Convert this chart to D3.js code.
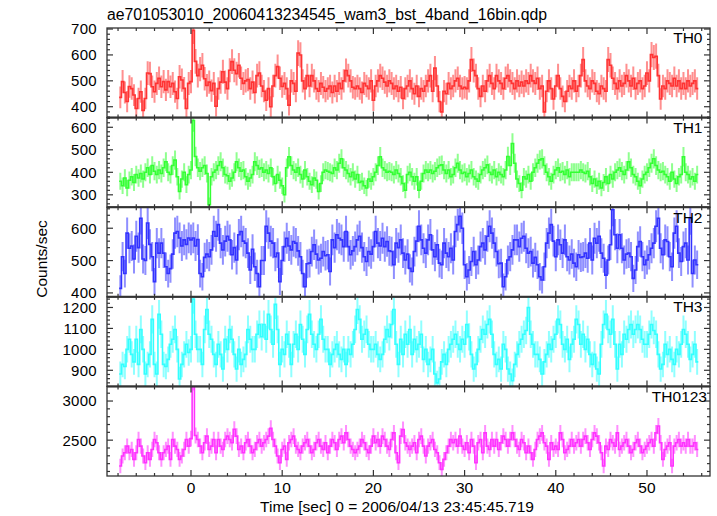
<!DOCTYPE html>
<html><head><meta charset="utf-8">
<script src="https://cdn.jsdelivr.net/npm/d3@7"></script>
<style>body{margin:0;background:#fff} svg{display:block} text{font-family:"Liberation Sans",Arial,Helvetica,sans-serif;fill:#000}</style>
</head><body><svg id="c" width="717" height="516"></svg>
<script>
// ---------- data ----------
const title = "ae701053010_20060413234545_wam3_bst_4band_16bin.qdp";
const xLabel = "Time [sec] 0 = 2006/04/13 23:45:45.719";
const yLabel = "Counts/sec";
const bandNames = ["TH0", "TH1", "TH2", "TH3", "TH0123"];
const binStart = -7.75;      // centre of first bin (s)
const binWidth = 0.25;       // s
const timeDomain = [-9.21, 56.91];
const xTicksMajor = [0, 10, 20, 30, 40, 50];
const xMinorStep = 2;
const yDomains = [[358, 704], [245, 643], [388, 665], [823, 1251], [2042, 3187]];
const yTicksMajor = [[400, 500, 600, 700], [300, 400, 500, 600], [400, 500, 600], [900, 1000, 1100, 1200], [2500, 3000]];
const yMinorStep = [20, 20, 20, 20, 100];

const TH0 = [436,497,455,
420,478,470,445, 393,432,458,386, 432,530,528,477, 458,490,510,477, 497,465,497,477, 490,458,432,516, 503,471,393,490,
497,695,575,520, 545,560,508,482, 495,462,490,402, 470,495,535,495, 470,541,574,541, 528,560,510,490, 500,505,470,495,
455,520,530,480, 460,425,470,400, 480,520,555,510, 478,490,470,406, 500,490,460,607, 600,500,470,520, 480,520,500,470,
460,490,475,460, 470,480,455,480, 460,490,470,500, 540,520,500,475, 470,480,470,455, 490,480,470,500, 425,480,500,520,
510,495,480,500, 490,470,480,460, 475,432,470,480, 500,470,450,480, 440,470,460,480, 500,520,460,549, 480,420,380,460,
450,490,470,480, 500,510,480,470, 475,470,500,582, 540,520,470,440, 480,460,500,520, 490,470,520,500, 490,470,510,520,
500,490,470,500, 480,495,480,500, 490,520,500,490, 510,470,480,380, 460,500,470,430, 480,520,470,440, 420,460,480,470,
500,460,480,520, 582,500,480,470, 500,490,460,450, 480,470,460,582, 560,510,490,470, 500,480,490,520, 500,480,510,470,
490,500,470,480, 530,500,601,590, 595,520,430,480, 470,500,490,480, 510,480,500,470, 490,470,500,480,
490,500,470];

const TH1 = [360,340,375,
330,365,380,355, 390,375,395,370, 400,420,390,430, 405,390,410,395, 420,447,400,390, 430,454,380,315, 370,400,345,390,
410,630,470,420, 405,420,430,395, 256,380,400,410, 430,447,420,390, 385,360,375,400, 447,420,405,410, 380,360,375,390,
447,430,415,420, 400,410,395,420, 380,350,390,365, 340,300,420,469, 430,410,400,420, 390,370,410,380, 360,345,375,365,
315,350,400,410, 405,400,395,420, 410,440,460,420, 410,395,380,400, 370,390,355,360, 340,330,370,360, 380,400,430,469,
420,410,400,405, 400,390,410,395, 380,350,320,390, 400,380,360,380, 320,360,395,410, 400,410,395,405, 420,430,433,410,
395,410,380,390, 420,440,410,395, 400,380,395,410, 380,370,360,390, 410,420,433,400, 390,410,380,400, 390,380,410,470,
430,528,440,370, 350,320,380,370, 390,360,400,420, 440,455,460,430, 400,380,360,390, 410,420,400,405, 390,410,380,400,
400,400,400,410, 400,395,405,380, 350,370,340,360, 330,355,380,350, 390,370,400,410, 420,405,390,410, 447,420,390,380,
360,340,370,390, 400,420,440,460, 430,410,400,405, 390,380,360,400, 370,350,380,390, 469,400,390,370,
380,360,390];

const TH2 = [414,512,460,
585,538,545,505, 575,540,631,505, 500,616,550,512, 435,554,523,554, 523,481,460,475, 520,585,590,570, 545,564,550,570,
564,570,545,565, 460,450,510,520, 512,533,590,575, 611,554,533,560, 575,564,518,540, 502,580,590,560, 554,523,471,535,
481,460,419,500, 500,606,585,560, 554,512,523,435, 500,543,569,545, 533,559,554,530, 512,460,419,490, 492,528,549,520,
502,507,528,515, 518,466,564,540, 580,569,564,543, 590,543,518,530, 543,564,575,540, 512,497,528,520, 543,590,554,545,
569,543,559,530, 528,487,554,540, 564,523,502,520, 476,466,528,560, 606,564,538,523, 564,580,533,512, 549,492,487,554,
523,512,538,502, 590,611,637,600, 487,450,471,497, 528,487,502,543, 554,533,575,606, 585,554,528,490, 492,419,450,502,
512,533,564,564, 543,569,575,538, 523,528,492,510, 487,450,440,481, 554,585,611,560, 512,564,549,523, 564,512,502,520,
492,481,518,510, 512,523,507,554, 502,569,554,575, 523,507,455,502, 549,657,580,538, 580,538,502,520, 523,512,445,471,
543,559,512,487, 502,518,538,554, 606,631,538,518, 564,559,512,481, 585,606,523,497, 543,554,502,630,
460,502,487];

const TH3 = [882,928,918,
1000,1048,976,940, 1048,928,1095,1000, 882,928,976,1143, 928,882,1167,1072, 928,918,952,1024, 1048,1095,1000,858, 928,976,1024,985,
1000,1240,1072,1000, 1000,928,1095,1190, 1072,1048,976,928, 1024,976,906,1048, 1000,1095,1048,976, 906,1000,928,952, 976,1095,1048,1000,
1000,1072,1119,1060, 1119,1048,1167,1095, 1024,1215,1095,928, 1000,976,1072,1024, 928,1024,1072,1000, 1119,1048,976,1095, 1167,1072,1024,1000,
1072,1143,1048,1000, 1000,928,976,1000, 1024,976,952,1000, 928,1000,976,1024, 1095,1190,1143,1048, 1072,1095,1024,1000, 1000,1024,976,952,
976,1048,1095,1060, 1119,1190,1024,928, 1048,976,1072,1024, 1095,976,1048,1000, 1024,1072,952,1000, 928,952,1000,882, 840,858,940,976,
928,1000,1024,1048, 1072,1024,1000,1048, 1024,1119,1060,976, 906,928,1000,1048, 1095,1072,1119,1143, 1072,976,928,952, 906,1024,1000,906,
882,850,928,976, 1024,1048,1072,1090, 1200,1072,1024,976, 976,952,882,940, 976,1024,1000,1048, 1072,1143,1119,1024, 1000,1048,952,1024,
1048,1143,1119,1024, 1072,1000,1048,976, 928,976,906,882, 1024,1119,1167,1095, 1072,1143,1024,906, 1024,976,1072,1048, 1095,1119,1072,1095,
1119,1095,1048,1024, 1024,1072,1119,1090, 1072,976,906,928, 1024,976,1000,952, 928,1000,976,1024, 1095,1072,1024,952,
976,1024,940];

const TH0123 = [2170,2297,2339,
2424,2339,2381,2254, 2339,2508,2424,2297, 2212,2339,2254,2381, 2508,2466,2339,2254, 2339,2381,2424,2254, 2508,2424,2381,2254, 2297,2381,2508,2424,
2520,3250,2560,2508, 2424,2339,2466,2551, 2381,2424,2508,2339, 2508,2424,2381,2508, 2551,2508,2466,2640, 2551,2381,2424,2339, 2466,2508,2424,2339,
2381,2466,2508,2424, 2466,2508,2551,2650, 2508,2424,2297,2212, 2381,2424,2254,2466, 2508,2551,2424,2381, 2339,2424,2466,2508, 2424,2339,2381,2466,
2508,2424,2381,2466, 2339,2424,2508,2466, 2381,2508,2551,2466, 2593,2508,2424,2381, 2339,2381,2424,2508, 2466,2381,2339,2424, 2551,2466,2508,2424,
2551,2508,2424,2381, 2508,2593,2339,2212, 2551,2636,2466,2424, 2381,2424,2466,2339, 2508,2551,2424,2297, 2424,2466,2508,2381, 2339,2212,2127,2254,
2339,2424,2508,2466, 2508,2424,2551,2424, 2381,2466,2339,2508, 2424,2212,2466,2508, 2339,2593,2424,2381, 2508,2424,2508,2381, 2466,2551,2508,2424,
2508,2593,2508,2424, 2381,2508,2466,2339, 2424,2339,2254,2381, 2508,2551,2593,2466, 2424,2254,2466,2381, 2424,2381,2593,2508, 2339,2381,2424,2508,
2424,2466,2508,2424, 2508,2551,2466,2381, 2508,2593,2551,2466, 2339,2170,2424,2381, 2508,2466,2424,2593, 2381,2424,2466,2508, 2424,2339,2381,2466,
2508,2424,2339,2381, 2424,2466,2508,2424, 2593,2680,2466,2254, 2381,2424,2466,2170, 2424,2466,2508,2424, 2466,2424,2508,2424,
2424,2466,2381];

const series = [TH0, TH1, TH2, TH3, TH0123];

// ---------- layout / style ----------
const L = 107, R = 710, T = 28, B = 476;
const nP = series.length, pH = (B - T) / nP;
const colors = ["#ff3333", "#33ff33", "#3333ff", "#33ffff", "#ff33ff"];
const labelRight = [702.5, 702.5, 702.5, 702.5, 707];
const fs = 15.5, fsTick = 15;
const axisColor = "#333";

const svg = d3.select("#c");
const x = d3.scaleLinear().domain(timeDomain).range([L, R]);
const xMinor = d3.range(Math.ceil(timeDomain[0] / xMinorStep) * xMinorStep, timeDomain[1], xMinorStep);

svg.append("text").attr("x", 107).attr("y", 19.5).attr("font-size", 15.8).text(title);

series.forEach((vals, i) => {
  const top = T + i * pH, bot = top + pH;
  const y = d3.scaleLinear().domain(yDomains[i]).range([bot, top]);
  const g = svg.append("g");
  const cid = "clip" + i;
  svg.append("clipPath").attr("id", cid).append("rect")
    .attr("x", L).attr("y", top).attr("width", R - L).attr("height", pH);
  const d = vals.map((v, k) => ({ t: binStart + k * binWidth, v: v, e: Math.sqrt(v / binWidth) }));
  const dg = g.append("g").attr("clip-path", `url(#${cid})`);
  // error bars
  dg.selectAll("line.err").data(d).join("line").attr("class", "err")
    .attr("x1", p => x(p.t)).attr("x2", p => x(p.t))
    .attr("y1", p => y(p.v - p.e)).attr("y2", p => y(p.v + p.e))
    .attr("stroke", colors[i]).attr("stroke-width", 2).attr("stroke-opacity", 0.55);
  // step line (bin edges)
  const pts = d.map(p => [p.t - binWidth / 2, p.v]);
  pts.push([d[d.length - 1].t + binWidth / 2, d[d.length - 1].v]);
  const line = d3.line().x(p => x(p[0])).y(p => y(p[1])).curve(d3.curveStepAfter);
  dg.append("path").attr("d", line(pts)).attr("fill", "none")
    .attr("stroke", colors[i]).attr("stroke-width", 1.6);

  // frame
  g.append("rect").attr("x", L).attr("y", top).attr("width", R - L).attr("height", pH)
    .attr("fill", "none").attr("stroke", axisColor).attr("stroke-width", 1.3);

  // y ticks (left & right, inward)
  const yMin = d3.range(Math.ceil(yDomains[i][0] / yMinorStep[i]) * yMinorStep[i], yDomains[i][1], yMinorStep[i]);
  const tk = g.append("g").attr("stroke", axisColor).attr("stroke-width", 1.2);
  yMin.forEach(v => {
    const major = yTicksMajor[i].includes(v);
    const len = major ? 6 : 3;
    tk.append("line").attr("x1", L).attr("x2", L + len).attr("y1", y(v)).attr("y2", y(v));
    tk.append("line").attr("x1", R).attr("x2", R - len).attr("y1", y(v)).attr("y2", y(v));
  });
  // x ticks (top & bottom, inward)
  xMinor.forEach(t => {
    const major = xTicksMajor.includes(t);
    const len = major ? 6 : 3;
    tk.append("line").attr("x1", x(t)).attr("x2", x(t)).attr("y1", top).attr("y2", top + len);
    tk.append("line").attr("x1", x(t)).attr("x2", x(t)).attr("y1", bot).attr("y2", bot - len);
  });
  // y tick labels
  yTicksMajor[i].forEach(v => {
    g.append("text").attr("x", 97).attr("y", y(v) + 5.4).attr("text-anchor", "end")
      .attr("font-size", fsTick).attr("letter-spacing", 0.3).text(v);
  });
  // band label
  g.append("text").attr("x", labelRight[i]).attr("y", top + 15.4).attr("text-anchor", "end")
    .attr("font-size", fs).text(bandNames[i]);
});

// panel separators
d3.range(1, nP).forEach(j => {
  svg.append("line").attr("x1", L).attr("x2", R).attr("y1", T + j * pH).attr("y2", T + j * pH)
    .attr("stroke", axisColor).attr("stroke-width", 2);
});

// x tick labels
xTicksMajor.forEach(t => {
  svg.append("text").attr("x", x(t)).attr("y", 493).attr("text-anchor", "middle")
    .attr("font-size", fs).text(t);
});
svg.append("text").attr("x", 397).attr("y", 512).attr("text-anchor", "middle")
  .attr("font-size", fs).text(xLabel);
svg.append("text").attr("transform", "translate(46.5,259) rotate(-90)").attr("text-anchor", "middle")
  .attr("font-size", fs).text(yLabel);
</script></body></html>
